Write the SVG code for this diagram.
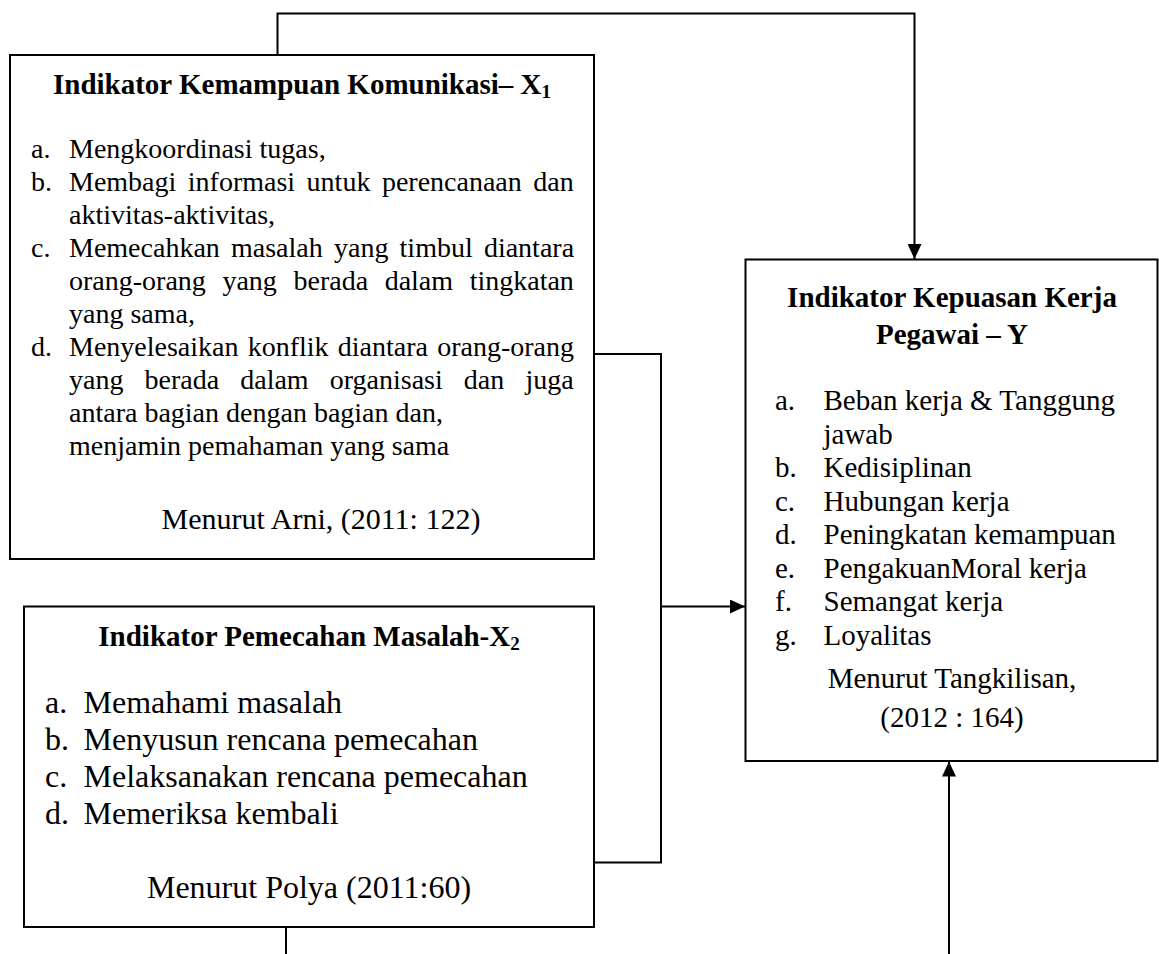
<svg xmlns="http://www.w3.org/2000/svg" width="1159" height="954" viewBox="0 0 1159 954">
<defs>
<marker id="arr" markerUnits="userSpaceOnUse" markerWidth="15" markerHeight="14" refX="15" refY="7" orient="auto"><path d="M0,0 L15,7 L0,14 z" fill="#000"/></marker>
<style>
.box{fill:#fff;stroke:#000;stroke-width:2}
.ln{fill:none;stroke:#000;stroke-width:2}
text{font-family:"Liberation Serif","Times New Roman",serif;fill:#000}
.t{font-weight:bold;font-size:29px;text-anchor:middle}
.b1{font-size:28px}
.b2{font-size:32px}
.by{font-size:29px}
.c{text-anchor:middle}
</style>
</defs>
<rect width="1159" height="954" fill="#fff"/>
<g id="connectors">
<path class="ln" d="M277.5,55 V13.5 H914.5 V259" marker-end="url(#arr)"/>
<path class="ln" d="M594,354 H661 V862.5 H594"/>
<path class="ln" d="M661,606.5 H745" marker-end="url(#arr)"/>
<path class="ln" d="M286,927 V954"/>
<path class="ln" d="M949,954 V761.5" marker-end="url(#arr)"/>
</g>
<g id="x1">
<rect class="box" x="10" y="55" width="584" height="504"/>
<text class="t" x="302" y="94">Indikator Kemampuan Komunikasi– X<tspan font-size="19" dy="4">1</tspan></text>
<text class="b1" x="31" y="158">a.</text><text class="b1" x="69" y="158">Mengkoordinasi tugas,</text>
<text class="b1" x="31" y="191">b.</text><text class="b1" x="69" y="191" word-spacing="4.5">Membagi informasi untuk perencanaan dan</text>
<text class="b1" x="69" y="224">aktivitas-aktivitas,</text>
<text class="b1" x="31" y="257">c.</text><text class="b1" x="69" y="257" word-spacing="4.2">Memecahkan masalah yang timbul diantara</text>
<text class="b1" x="69" y="290" word-spacing="9.6">orang-orang yang berada dalam tingkatan</text>
<text class="b1" x="69" y="323">yang sama,</text>
<text class="b1" x="31" y="356">d.</text><text class="b1" x="69" y="356" word-spacing="2.2">Menyelesaikan konflik diantara orang-orang</text>
<text class="b1" x="69" y="389" word-spacing="14.1">yang berada dalam organisasi dan juga</text>
<text class="b1" x="69" y="422">antara bagian dengan bagian dan,</text>
<text class="b1" x="69" y="455">menjamin pemahaman yang sama</text>
<text class="c" x="321" y="529" font-size="30">Menurut Arni, (2011: 122)</text>
</g>
<g id="x2">
<rect class="box" x="24" y="606.5" width="570" height="320.5"/>
<text class="t" x="309" y="645.5">Indikator Pemecahan Masalah-X<tspan font-size="19" dy="4">2</tspan></text>
<text class="b2" x="45" y="712.5">a.</text><text class="b2" x="83.5" y="712.5">Memahami masalah</text>
<text class="b2" x="45" y="749.5">b.</text><text class="b2" x="83.5" y="749.5">Menyusun rencana pemecahan</text>
<text class="b2" x="45" y="786.5">c.</text><text class="b2" x="83.5" y="786.5">Melaksanakan rencana pemecahan</text>
<text class="b2" x="45" y="823.5">d.</text><text class="b2" x="83.5" y="823.5">Memeriksa kembali</text>
<text class="b2 c" x="309" y="898">Menurut Polya (2011:60)</text>
</g>
<g id="y">
<rect class="box" x="745.5" y="259.5" width="412" height="501.5"/>
<text class="t" x="952" y="307">Indikator Kepuasan Kerja</text>
<text class="t" x="952" y="344">Pegawai – Y</text>
<text class="by" x="775" y="410">a.</text><text class="by" x="823.5" y="410">Beban kerja &amp; Tanggung</text>
<text class="by" x="823.5" y="443.5">jawab</text>
<text class="by" x="775" y="477">b.</text><text class="by" x="823.5" y="477">Kedisiplinan</text>
<text class="by" x="775" y="510.5">c.</text><text class="by" x="823.5" y="510.5">Hubungan kerja</text>
<text class="by" x="775" y="544">d.</text><text class="by" x="823.5" y="544">Peningkatan kemampuan</text>
<text class="by" x="775" y="577.5">e.</text><text class="by" x="823.5" y="577.5">PengakuanMoral kerja</text>
<text class="by" x="775" y="611">f.</text><text class="by" x="823.5" y="611">Semangat kerja</text>
<text class="by" x="775" y="645">g.</text><text class="by" x="823.5" y="645">Loyalitas</text>
<text class="by c" x="952" y="688">Menurut Tangkilisan,</text>
<text class="by c" x="952" y="727">(2012 : 164)</text>
</g>
</svg>
